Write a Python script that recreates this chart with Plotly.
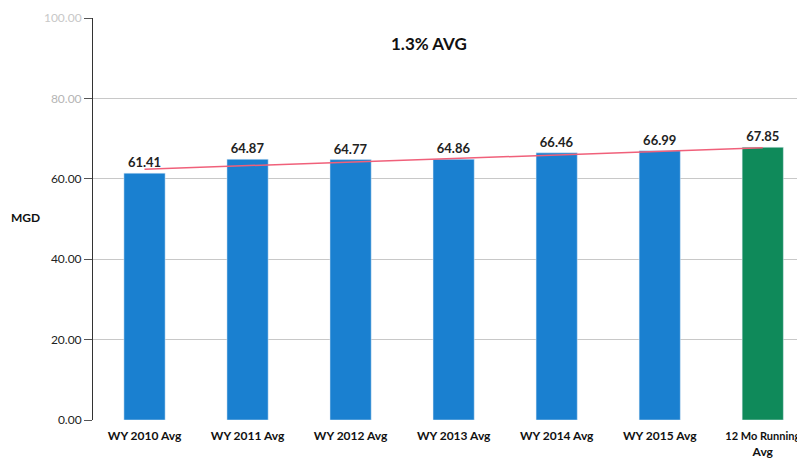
import plotly.graph_objects as go

# bar categories and values (MGD)
categories = ["WY 2010 Avg", "WY 2011 Avg", "WY 2012 Avg", "WY 2013 Avg",
              "WY 2014 Avg", "WY 2015 Avg",
              "<span style='font-size:11px'>12 Mo Running</span><br>Avg"]
values = [61.41, 64.87, 64.77, 64.86, 66.46, 66.99, 67.85]
colors = ["#1a80d0"] * 6 + ["#0f8a5a"]

# trend line end points
trend_x = [categories[0], categories[-1]]
trend_y = [62.4, 67.7]

tick_vals = [0, 20, 40, 60, 80, 100]
tick_text = ["0.00", "20.00", "40.00", "60.00",
             "<span style='color:#b5b5b5'>80.00</span>",
             "<span style='color:#c8c8c8'>100.00</span>"]

font = "Lato, 'Open Sans', sans-serif"

fig = go.Figure()
fig.add_trace(go.Bar(
    x=categories, y=values, marker_color=colors, width=0.4,
    text=["<b>%.2f</b>" % v for v in values], textposition="outside",
    textfont=dict(size=13, color="#222222", family=font),
    cliponaxis=False,
))
fig.add_trace(go.Scatter(
    x=trend_x, y=trend_y, mode="lines",
    line=dict(color="#f0607a", width=1.5),
))

# page body has an 8px margin, so the figure is offset by 8px
fig.update_layout(
    width=797, height=456,
    margin=dict(l=85, r=0, t=10, b=44),
    paper_bgcolor="white", plot_bgcolor="white",
    showlegend=False,
    font=dict(family=font, color="#222222"),
    annotations=[
        dict(text="<b>1.3% AVG</b>", x=(429 - 93) / 712, y=(420 - 43) / 402,
             xref="paper", yref="paper", xanchor="center", yanchor="middle",
             showarrow=False, font=dict(size=17, color="#111111")),
        dict(text="<b>MGD</b>", x=(25 - 93) / 712, y=(420 - 217) / 402,
             xref="paper", yref="paper", xanchor="center", yanchor="middle",
             showarrow=False, font=dict(size=12, color="#111111")),
    ],
)

fig.update_xaxes(
    range=[-0.5, 6.41], showgrid=False, showline=False, ticks="",
    tickfont=dict(size=12, color="#111111"),
    tickprefix="<b>", ticksuffix="</b>",
    ticklabelstandoff=7,
)
fig.update_yaxes(
    range=[0, 100], tickvals=tick_vals, ticktext=tick_text,
    showgrid=True, gridcolor="#c8c8c8", gridwidth=1,
    showline=True, linecolor="#333333", linewidth=1,
    ticks="outside", ticklen=8, tickcolor="#555555",
    tickfont=dict(size=12, color="#222222"),
    zeroline=False,
)

fig.write_html("out.html")
